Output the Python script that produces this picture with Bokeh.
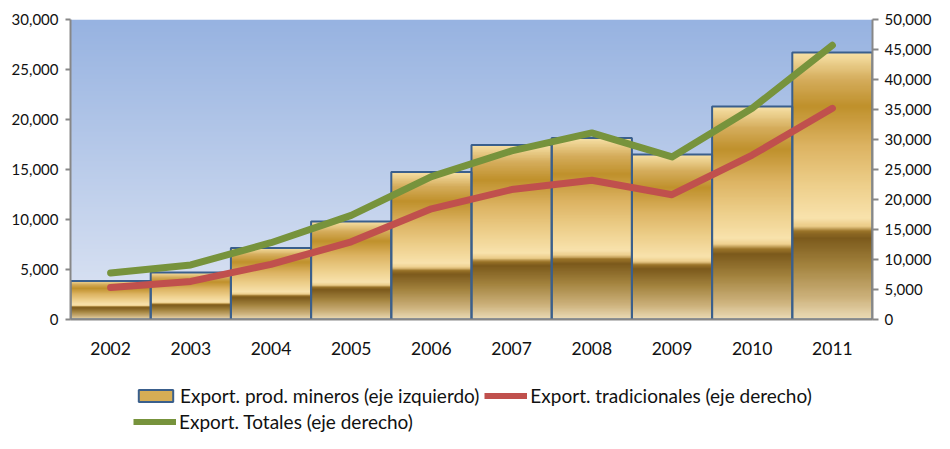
import numpy as np
from bokeh.plotting import figure
from bokeh.layouts import column
from bokeh.models import (Range1d, LinearAxis, Legend, LegendItem, FixedTicker,
                          NumeralTickFormatter, ColumnDataSource)
from bokeh.embed import file_html
from bokeh.resources import INLINE

# ---------------- data ----------------
years = ["2002", "2003", "2004", "2005", "2006", "2007", "2008", "2009", "2010", "2011"]
mining = [3850, 4700, 7150, 9800, 14750, 17450, 18150, 16500, 21300, 26700]       # left axis
traditional = [5350, 6350, 9200, 12950, 18450, 21650, 23200, 20800, 27400, 35200]  # right axis
total = [7750, 9100, 12800, 17350, 23800, 28100, 31100, 27100, 35200, 45700]       # right axis
left_ticks = [0, 5000, 10000, 15000, 20000, 25000, 30000]
right_ticks = [0, 5000, 10000, 15000, 20000, 25000, 30000, 35000, 40000, 45000, 50000]
series_names = ["Export. prod. mineros (eje izquierdo)",
                "Export. tradicionales (eje derecho)",
                "Export. Totales (eje derecho)"]

FONT = "Lato"
BAR_LINE = "#3a5f8c"
RED = "#c0504d"
GREEN = "#77933c"
AX = "#878787"

idx = list(range(1, len(years) + 1))
x_lo, x_hi = 0.5, len(years) + 0.5
left_max = left_ticks[-1]
right_max = right_ticks[-1]


def hex2rgb(h):
    h = h.lstrip("#")
    return [int(h[i:i + 2], 16) for i in (0, 2, 4)]


def gradient_image(stops, n=240):
    fr = np.linspace(0, 1, n)
    pos = [s[0] for s in stops]
    cols = np.array([hex2rgb(s[1]) for s in stops], dtype=float)
    img = np.empty((n, 2), dtype=np.uint32)
    view = img.view(dtype=np.uint8).reshape((n, 2, 4))
    for c in range(3):
        view[:, :, c] = np.interp(fr, pos, cols[:, c])[:, None].astype(np.uint8)
    view[:, :, 3] = 255
    return img


gold_stops = [
    (0.00, "#ecdcb8"),
    (0.08, "#cdb27c"),
    (0.20, "#a4843f"),
    (0.305, "#7c5a1c"),
    (0.330, "#9a7328"),
    (0.350, "#eccd8a"),
    (0.380, "#f9e3ad"),
    (0.500, "#eed08c"),
    (0.650, "#ddb463"),
    (0.800, "#c0912c"),
    (0.900, "#d5ad5c"),
    (1.00, "#f8e2a8"),
]
bg_stops = [
    (0.0, "#dfe6f4"),
    (1.0, "#97b3e1"),
]

bar_img = gradient_image(gold_stops)
bg_img = gradient_image(bg_stops)

# ---------------- main chart ----------------
p = figure(width=934, height=372, x_range=Range1d(x_lo, x_hi), y_range=Range1d(0, left_max),
           output_backend="svg", toolbar_location=None,
           min_border_left=70, min_border_right=0, min_border_top=19, min_border_bottom=53)
p.extra_y_ranges = {"right": Range1d(0, right_max)}
p.outline_line_color = None
p.grid.visible = False
p.background_fill_color = "white"

# plot-area background gradient
p.image_rgba(image=[bg_img], x=[x_lo], y=[0], dw=[x_hi - x_lo], dh=[left_max])

# gold bars (gradient stretched to each bar's height)
bar_src = ColumnDataSource(dict(image=[bar_img] * len(years), x=[i - 0.5 for i in idx],
                                y=[0] * len(years), dw=[1] * len(years), dh=mining))
p.image_rgba(image="image", x="x", y="y", dw="dw", dh="dh", source=bar_src)
p.vbar(x=idx, top=mining, width=1, fill_color=None, line_color=BAR_LINE, line_width=2)

p.line(idx, traditional, y_range_name="right", line_color=RED, line_width=7,
       line_cap="round", line_join="round")
p.line(idx, total, y_range_name="right", line_color=GREEN, line_width=7,
       line_cap="round", line_join="round")

# axes
p.xaxis.ticker = FixedTicker(ticks=idx)
p.xaxis.major_label_overrides = {i: y for i, y in zip(idx, years)}
p.xaxis.major_tick_line_color = None
p.xaxis.major_tick_out = 0
p.xaxis.major_tick_in = 0
p.xaxis.minor_tick_line_color = None
p.xaxis.axis_line_color = AX
p.xaxis.axis_line_width = 2
p.xaxis.major_label_text_font = FONT
p.xaxis.major_label_text_font_size = "17.5px"
p.xaxis.major_label_text_color = "#111111"
p.xaxis.major_label_standoff = 22

p.yaxis.ticker = FixedTicker(ticks=left_ticks)
p.yaxis.formatter = NumeralTickFormatter(format="0,0")
p.yaxis.minor_tick_line_color = None
p.yaxis.axis_line_color = AX
p.yaxis.axis_line_width = 2
p.yaxis.major_tick_line_color = AX
p.yaxis.major_tick_line_width = 2
p.yaxis.major_tick_in = 0
p.yaxis.major_tick_out = 5
p.yaxis.major_label_standoff = 7
p.yaxis.major_label_text_font = FONT
p.yaxis.major_label_text_font_size = "15px"
p.yaxis.major_label_text_color = "#111111"

ry = LinearAxis(y_range_name="right", ticker=FixedTicker(ticks=right_ticks),
                formatter=NumeralTickFormatter(format="0,0"))
ry.minor_tick_line_color = None
ry.axis_line_color = AX
ry.axis_line_width = 2
ry.major_tick_line_color = AX
ry.major_tick_line_width = 2
ry.major_tick_in = 0
ry.major_tick_out = 6
ry.major_label_standoff = 6
ry.major_label_text_font = FONT
ry.major_label_text_font_size = "15px"
ry.major_label_text_color = "#111111"
p.add_layout(ry, "right")

# ---------------- legend strip ----------------
lf = figure(width=934, height=61, x_range=Range1d(0, 1), y_range=Range1d(0, 1),
            x_axis_location=None, y_axis_location=None,
            output_backend="svg", toolbar_location=None,
            min_border_left=0, min_border_right=0, min_border_top=0, min_border_bottom=0)
lf.grid.visible = False
lf.outline_line_color = None

# legend proxies (hidden renderers, used only for the legend glyphs)
proxy = ColumnDataSource(dict(x=[-5], y=[-5], top=[-5]))
bar_leg = lf.vbar(x="x", top="top", width=0.1, source=proxy,
                  fill_color="#d6ad55", line_color=BAR_LINE, line_width=2)
red_leg = lf.line(x="x", y="y", source=proxy, line_color=RED, line_width=6)
green_leg = lf.line(x="x", y="y", source=proxy, line_color=GREEN, line_width=6)
for r in (bar_leg, red_leg, green_leg):
    r.visible = False


def make_legend(items, loc):
    return Legend(items=items, location=loc, orientation="horizontal",
                  label_text_font=FONT, label_text_font_size="19px", label_text_color="#111111",
                  glyph_width=43, glyph_height=15, label_standoff=3, spacing=5,
                  padding=0, margin=0, background_fill_alpha=0, border_line_color=None)


# the strip's frame is aligned with the chart's frame (starts at the left axis)
leg1 = make_legend([LegendItem(label=series_names[0], renderers=[bar_leg]),
                    LegendItem(label=series_names[1], renderers=[red_leg])], (64, 26))
leg2 = make_legend([LegendItem(label=series_names[2], renderers=[green_leg])], (63, 0))
lf.add_layout(leg1, "center")
lf.add_layout(leg2, "center")

open("out.html", "w").write(file_html(column(p, lf, spacing=0), INLINE))
